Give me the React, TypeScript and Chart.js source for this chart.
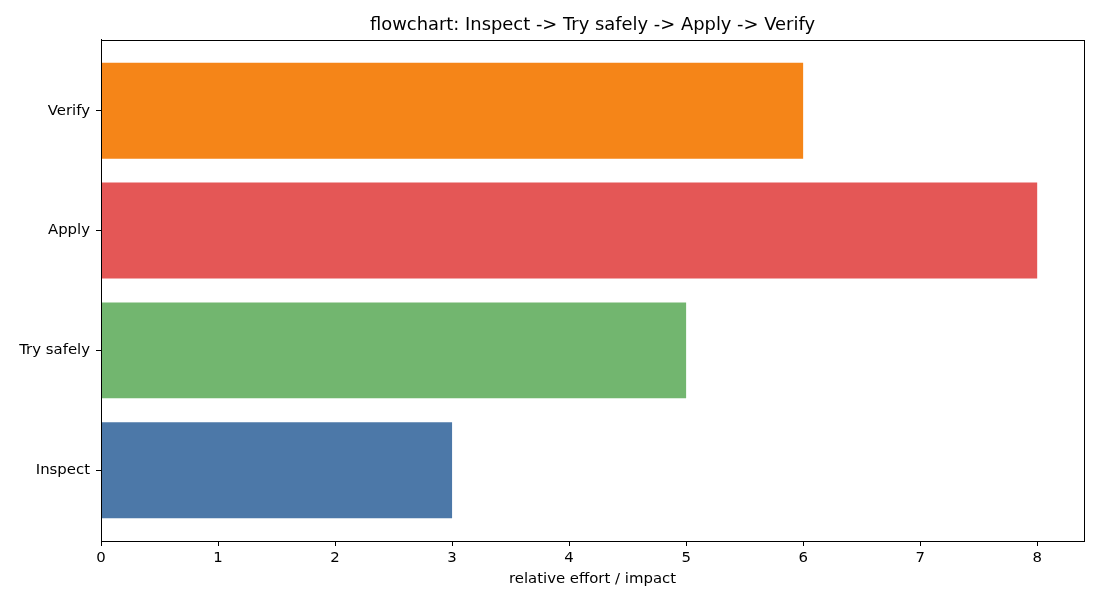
import { useEffect, useRef } from 'react';
import { Chart, registerables } from 'chart.js';

Chart.register(...registerables);

const steps = ['Inspect', 'Try safely', 'Apply', 'Verify'];
const effort = [3, 5, 8, 6];
const stepColors = ['#4C78A8', '#72B66F', '#E45756', '#F58518'];
const xTicks = [0, 1, 2, 3, 4, 5, 6, 7, 8];

const FONT = "'DejaVu Sans', sans-serif";

// matplotlib-style full box around the plot area
const frame = {
  id: 'frame',
  afterDraw(chart: Chart) {
    const { ctx, chartArea: a } = chart;
    ctx.save();
    ctx.strokeStyle = '#000';
    ctx.lineWidth = 1;
    ctx.strokeRect(Math.round(a.left) + 0.5, Math.round(a.top) + 0.5, Math.round(a.right - a.left), Math.round(a.bottom - a.top));
    ctx.restore();
  },
};

export default function App() {
  const canvasRef = useRef<HTMLCanvasElement>(null);

  useEffect(() => {
    document.body.style.margin = '0';
    if (!canvasRef.current) return;

    const chart = new Chart(canvasRef.current, {
      type: 'bar',
      data: {
        datasets: [
          {
            data: steps.map((_, i) => ({ x: effort[i], y: i })),
            backgroundColor: stepColors,
            borderWidth: 0,
            barPercentage: 0.8,
            categoryPercentage: 1,
          },
        ],
      },
      options: {
        indexAxis: 'y',
        animation: false,
        responsive: true,
        maintainAspectRatio: false,
        layout: { padding: { left: 0, right: 16, top: 0, bottom: 0 } },
        plugins: {
          legend: { display: false },
          tooltip: { enabled: false },
          title: {
            display: true,
            fullSize: false, // centre over the plot area like matplotlib
            text: 'flowchart: Inspect -> Try safely -> Apply -> Verify',
            color: '#000',
            font: { family: FONT, size: 17.9, weight: 'normal' },
            padding: { top: 14.3, bottom: 4.2 },
          },
        },
        scales: {
          x: {
            type: 'linear',
            min: 0,
            max: 8.4,
            afterBuildTicks: (s) => {
              s.ticks = xTicks.map((v) => ({ value: v }));
            },
            afterFit: (s) => {
              s.height = 64;
            },
            ticks: { color: '#000', font: { family: FONT, size: 14.9 }, padding: 3, maxRotation: 0 },
            grid: { drawOnChartArea: false, tickLength: 5, tickColor: '#000' },
            border: { color: '#000' },
            title: {
              display: true,
              text: 'relative effort / impact',
              color: '#000',
              font: { family: FONT, size: 14.9 },
              padding: { top: 4, bottom: 17 },
            },
          },
          y: {
            type: 'linear',
            offset: false,
            min: -0.59,
            max: 3.59,
            afterBuildTicks: (s) => {
              s.ticks = steps.map((_, i) => ({ value: i }));
            },
            afterFit: (s) => {
              s.width = 101;
            },
            ticks: {
              color: '#000',
              font: { family: FONT, size: 14.9 },
              padding: 6,
              callback: (v) => steps[Number(v)] ?? '',
            },
            grid: { offset: false, drawOnChartArea: false, tickLength: 5, tickColor: '#000' },
            border: { color: '#000' },
          },
        },
      },
      plugins: [frame],
    });

    return () => {
      chart.destroy();
    };
  }, []);

  return (
    <div style={{ width: 1100, height: 605, position: 'relative', background: '#fff' }}>
      <canvas ref={canvasRef} />
    </div>
  );
}
